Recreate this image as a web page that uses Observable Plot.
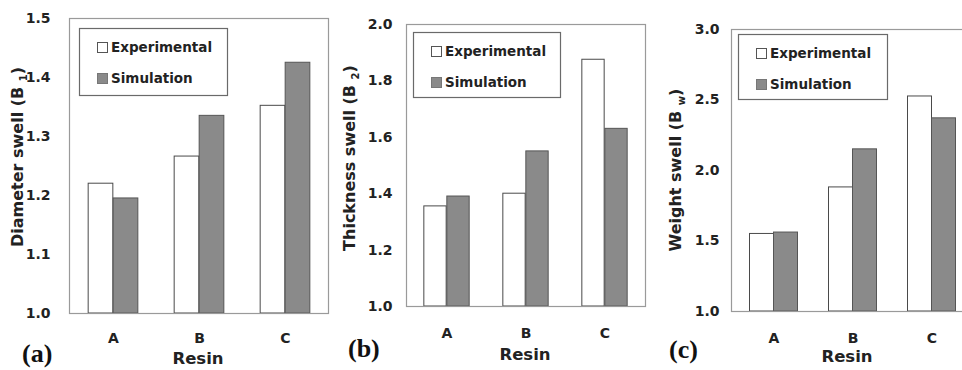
<!DOCTYPE html>
<html><head><meta charset="utf-8">
<script src="https://cdn.jsdelivr.net/npm/d3@7"></script>
<script src="https://cdn.jsdelivr.net/npm/@observablehq/plot@0.6"></script>
<style>
body{margin:0;background:#fff;}
#chart{position:relative;width:962px;height:370px;overflow:hidden;background:#fff;}
#chart svg{position:absolute;top:0;}
</style></head><body><div id="chart"></div>
<script>
// ---- data ----
const resins = ["A", "B", "C"];
const series = ["Experimental", "Simulation"];
const diameterExp = [1.22, 1.266, 1.352];
const diameterSim = [1.195, 1.335, 1.425];
const thicknessExp = [1.355, 1.40, 1.875];
const thicknessSim = [1.39, 1.55, 1.63];
const weightExp = [1.55, 1.88, 2.525];
const weightSim = [1.56, 2.15, 2.37];
const diameterTicks = [1.0, 1.1, 1.2, 1.3, 1.4, 1.5];
const thicknessTicks = [1.0, 1.2, 1.4, 1.6, 1.8, 2.0];
const weightTicks = [1.0, 1.5, 2.0, 2.5, 3.0];
const panelTags = ["(a)", "(b)", "(c)"];
const yTitles = [["Diameter swell (B", "1", ")"], ["Thickness swell (B", "2", ")"], ["Weight swell (B", "w", ")"]];
const xTitle = "Resin";

// ---- layout (page coordinates) ----
const panels = [
  {left: 0, width: 335, mt: 18, mb: 57, ml: 69, mr: 7, exp: diameterExp, sim: diameterSim, ticks: diameterTicks,
   barW: 25, tickPad: 19, xPad: 20, insetL: 0,
   ylab: {x: 17, y: 157}, legend: {x: 79, y: 28, w: 148, h: 67}, resin: {x: 198, y: 364}, tag: {x: 22, y: 362}},
  {left: 335, width: 315, mt: 24, mb: 64, ml: 71, mr: 5, exp: thicknessExp, sim: thicknessSim, ticks: thicknessTicks,
   barW: 23, tickPad: 14, xPad: 22, insetL: 0,
   ylab: {x: 349, y: 158}, legend: {x: 413, y: 32, w: 147, h: 65}, resin: {x: 525, y: 360}, tag: {x: 348, y: 357}},
  {left: 650, width: 330, mt: 29, mb: 59, ml: 81, mr: 9, exp: weightExp, sim: weightSim, ticks: weightTicks,
   barW: 24, tickPad: 12, xPad: 22, insetL: 3,
   ylab: {x: 675, y: 170}, legend: {x: 738, y: 34, w: 149, h: 65}, resin: {x: 847, y: 362}, tag: {x: 669, y: 358}}
];

const FONT = "DejaVu Sans";
const expFill = "#ffffff", simFill = "#8a8a8a";
const container = document.getElementById("chart");

panels.forEach((p, k) => {
  const rows = resins.flatMap((r, i) => [
    {resin: r, series: series[0], value: p.exp[i]},
    {resin: r, series: series[1], value: p.sim[i]}
  ]);
  const lo = p.ticks[0], hi = p.ticks[p.ticks.length - 1];
  const bw = (p.width - p.ml - p.mr - p.insetL) / resins.length;
  const inset = (bw - p.barW) / 2;
  const svg = Plot.plot({
    width: p.width, height: 370,
    marginTop: p.mt, marginBottom: p.mb, marginLeft: p.ml, marginRight: p.mr,
    style: {fontFamily: FONT, fontWeight: "bold", fontSize: "14px", color: "#222", background: "transparent", overflow: "visible"},
    x: {domain: resins, padding: 0, insetLeft: p.insetL, axis: null},
    y: {domain: [lo, hi], axis: null},
    color: {domain: series, range: [expFill, simFill]},
    marks: [
      Plot.barY(rows.filter(d => d.series === series[0]), {x: "resin", y1: () => lo, y2: "value", fill: "series",
        stroke: "#4a4a4a", strokeWidth: 1, dx: -p.barW / 2, insetLeft: inset, insetRight: inset}),
      Plot.barY(rows.filter(d => d.series === series[1]), {x: "resin", y1: () => lo, y2: "value", fill: "series",
        stroke: "#555", strokeWidth: 1, dx: p.barW / 2, insetLeft: inset, insetRight: inset}),
      Plot.frame({stroke: "#9a9a9a", strokeWidth: 1.2}),
      Plot.axisY({ticks: p.ticks, tickSize: 0, tickPadding: p.tickPad, tickFormat: d3.format(".1f"), label: null,
        fontSize: 14, fontWeight: "bold", fill: "#222"}),
      Plot.axisX({tickSize: 0, tickPadding: p.xPad, label: null, fontSize: 14, fontWeight: "bold", fill: "#222"})
    ]
  });
  svg.style.left = p.left + "px";
  container.appendChild(svg);
  // make sure the axis tick labels use the intended bold 14px face
  d3.select(svg).selectAll("text")
    .style("font-family", FONT).style("font-size", "14px").style("font-weight", "bold").style("fill", "#222");

  const g = d3.select(svg).append("g").attr("transform", `translate(${-p.left},0)`)
    .style("font-family", FONT).style("font-weight", "bold").attr("fill", "#222");

  // legend
  const L = p.legend;
  g.append("rect").attr("x", L.x + 0.5).attr("y", L.y + 0.5).attr("width", L.w).attr("height", L.h)
    .attr("fill", "white").attr("stroke", "#6a6a6a").attr("stroke-width", 1.2);
  series.forEach((s, j) => {
    const yy = L.y + (j === 0 ? 14 : 45);
    g.append("rect").attr("x", L.x + 18.5).attr("y", yy + 0.5).attr("width", 10).attr("height", 10)
      .attr("fill", j === 0 ? expFill : simFill).attr("stroke", j === 0 ? "#555" : "#777");
    g.append("text").attr("x", L.x + 32).attr("y", yy + 10).style("text-anchor", "start")
      .style("font-size", "13.5px").text(s);
  });

  // y title (rotated, with subscript)
  const t = g.append("text").attr("transform", `translate(${p.ylab.x},${p.ylab.y}) rotate(-90)`)
    .style("text-anchor", "middle").attr("dy", "0.36em").style("font-size", "16px");
  const parts = yTitles[k];
  t.append("tspan").text(parts[0] + " ");
  t.append("tspan").style("font-size", "10px").attr("dy", 4).text(parts[1]);
  t.append("tspan").attr("dy", -4).text(parts[2]);

  // x title
  g.append("text").attr("x", p.resin.x).attr("y", p.resin.y).style("text-anchor", "middle")
    .style("font-size", "16.5px").text(xTitle);

  // panel tag
  g.append("text").attr("x", p.tag.x).attr("y", p.tag.y).style("text-anchor", "start")
    .style("font-family", "Liberation Serif").style("font-weight", "bold")
    .style("font-size", "26px").attr("fill", "#111").text(panelTags[k]);
});
</script></body></html>
